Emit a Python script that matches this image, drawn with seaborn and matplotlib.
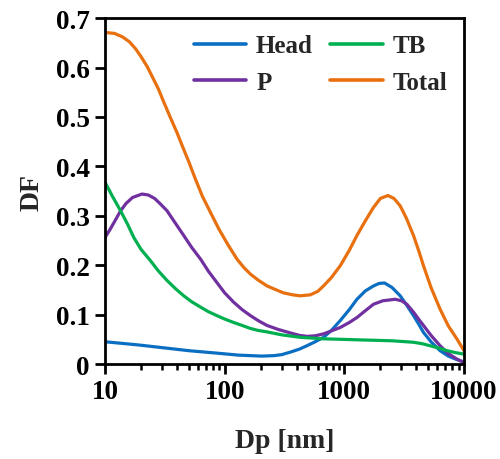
import matplotlib
matplotlib.use("Agg")
import matplotlib.pyplot as plt
import matplotlib.ticker as mticker
import seaborn as sns
import pandas as pd

# ---- data ----
head_dp = [10, 15, 20, 33, 50, 86, 130, 205, 260, 300, 353, 420, 487, 570, 670, 780, 925, 1100, 1274,
           1500, 1754, 1950, 2166, 2500, 2930, 3300, 3785, 4200, 4584, 5300, 6310, 7400, 8710, 10000]
head_df = [0.045, 0.041, 0.038, 0.032, 0.027, 0.022, 0.018, 0.016, 0.017, 0.019, 0.024, 0.030, 0.037, 0.045,
           0.054, 0.068, 0.088, 0.110, 0.131, 0.148, 0.158, 0.163, 0.164, 0.155, 0.138, 0.120, 0.098, 0.080,
           0.064, 0.045, 0.027, 0.016, 0.009, 0.004]

p_dp = [10, 11, 12, 13.5, 15, 17, 20.4, 23, 26, 29, 33, 38, 45.5, 53, 63, 73, 86, 100, 119, 140, 164, 190,
        226, 280, 353, 420, 487, 570, 670, 780, 925, 1100, 1274, 1500, 1754, 2100, 2660, 3000, 3330, 3785,
        4200, 4584, 5300, 6310, 7400, 8710, 10000]
p_df = [0.256, 0.272, 0.288, 0.310, 0.325, 0.337, 0.344, 0.342, 0.335, 0.324, 0.310, 0.288, 0.260, 0.236,
        0.212, 0.188, 0.165, 0.144, 0.125, 0.110, 0.098, 0.088, 0.078, 0.070, 0.063, 0.058, 0.056, 0.057,
        0.061, 0.067, 0.074, 0.084, 0.094, 0.108, 0.121, 0.128, 0.131, 0.128, 0.121, 0.105, 0.090, 0.078,
        0.058, 0.037, 0.021, 0.010, 0.003]

tb_dp = [10, 11.5, 13.5, 15.5, 17.4, 20, 24, 28, 33, 39, 45.5, 53, 63, 73, 86, 100, 119, 140, 164, 190,
         226, 300, 429, 670, 1274, 2500, 3785, 4500, 5200, 6200, 7200, 8500, 10000]
tb_df = [0.368, 0.340, 0.310, 0.282, 0.256, 0.232, 0.209, 0.188, 0.169, 0.152, 0.138, 0.126, 0.115, 0.106,
         0.098, 0.091, 0.084, 0.078, 0.072, 0.068, 0.065, 0.059, 0.054, 0.051, 0.049, 0.047, 0.044, 0.041,
         0.037, 0.032, 0.027, 0.023, 0.020]

total_dp = [10, 12, 14, 16, 18, 20, 22.5, 25, 28, 31, 35, 40, 45, 50, 57, 65, 76, 90, 108, 127, 145, 164,
            190, 226, 270, 310, 370, 428, 520, 600, 670, 780, 925, 1100, 1274, 1500, 1754, 2000, 2312, 2600,
            2930, 3300, 3785, 4200, 4584, 5300, 6310, 7400, 8710, 10000]
total_df = [0.671, 0.669, 0.662, 0.652, 0.638, 0.622, 0.602, 0.580, 0.556, 0.530, 0.500, 0.468, 0.437,
            0.410, 0.374, 0.340, 0.307, 0.272, 0.239, 0.212, 0.195, 0.182, 0.170, 0.158, 0.150, 0.144,
            0.140, 0.138, 0.140, 0.147, 0.158, 0.175, 0.199, 0.230, 0.260, 0.290, 0.317, 0.335, 0.341,
            0.335, 0.320, 0.295, 0.260, 0.228, 0.199, 0.155, 0.111, 0.077, 0.051, 0.027]

series = [("Head", head_dp, head_df), ("P", p_dp, p_df), ("TB", tb_dp, tb_df), ("Total", total_dp, total_df)]
colors = {"Head": "#0A6FC2", "TB": "#00B050", "P": "#7030A0", "Total": "#E8700F"}

x_ticks = [10, 100, 1000, 10000]
y_ticks = [0, 0.1, 0.2, 0.3, 0.4, 0.5, 0.6, 0.7]
y_tick_labels = ["0", "0.1", "0.2", "0.3", "0.4", "0.5", "0.6", "0.7"]

# ---- build long table ----
rows = []
for name, xs, ys in series:
    for x, y in zip(xs, ys):
        rows.append({"Dp": x, "DF": y, "series": name})
df = pd.DataFrame(rows)

sns.set_theme(style="ticks")
plt.rcParams["font.family"] = ["Liberation Serif", "DejaVu Serif"]
plt.rcParams["font.weight"] = "bold"

fig = plt.figure(figsize=(5.0, 4.6), dpi=100)
ax = fig.add_axes([0.21, 0.2065, 0.718, 0.752])

sns.lineplot(data=df, x="Dp", y="DF", hue="series", hue_order=["Head", "P", "TB", "Total"],
             palette=colors, linewidth=2.3, sort=True, estimator=None, ax=ax, legend=True)

ax.set_xscale("log")
ax.set_xlim(10, 10000)
ax.set_ylim(0, 0.7)
ax.set_xticks(x_ticks)
ax.xaxis.set_major_formatter(mticker.FixedFormatter([str(t) for t in x_ticks]))
ax.xaxis.set_minor_locator(mticker.LogLocator(base=10, subs=range(2, 10)))
ax.xaxis.set_minor_formatter(mticker.NullFormatter())
ax.set_yticks(y_ticks)
ax.set_yticklabels(y_tick_labels)

for s in ax.spines.values():
    s.set_linewidth(2.0)
    s.set_color("black")
ax.tick_params(axis="both", which="major", direction="out", length=7, width=2,
               labelsize=19.5, colors="black", pad=4)
ax.tick_params(axis="x", which="minor", direction="out", length=4.5, width=1.8, colors="black")
ax.tick_params(top=False, right=False, which="both")
for lab in ax.get_xticklabels() + ax.get_yticklabels():
    lab.set_fontweight("bold")

ax.set_xlabel("Dp [nm]", fontsize=20, fontweight="bold", labelpad=17)
ax.set_ylabel("DF", fontsize=20, fontweight="bold", labelpad=8)

handles, labels = ax.get_legend_handles_labels()
leg = ax.legend(handles, labels, ncol=2, frameon=False, loc="upper right",
                bbox_to_anchor=(1.0, 1.0), handlelength=2.1,
                handletextpad=0.4, columnspacing=0.7, labelspacing=0.55,
                borderaxespad=0.25, prop={"weight": "bold", "size": 18})
for line in leg.get_lines():
    line.set_linewidth(2.6)

fig.savefig("out.png", dpi=100)
